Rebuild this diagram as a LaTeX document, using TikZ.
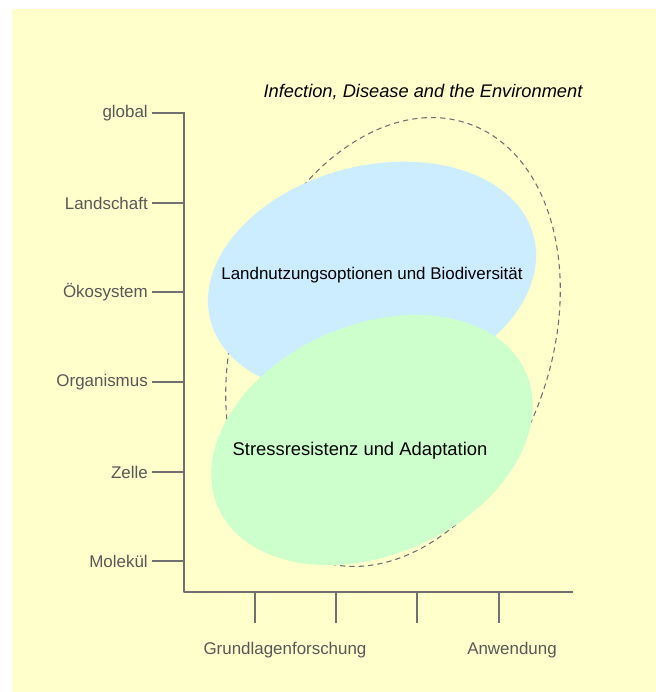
\documentclass[tikz,border=0pt]{standalone}
\usepackage{fontspec}
\setmainfont{Liberation Sans}
\definecolor{papier}{RGB}{255,255,204}
\definecolor{hellblau}{RGB}{204,236,255}
\definecolor{hellgruen}{RGB}{204,255,204}
\definecolor{achse}{RGB}{112,112,112}
\definecolor{schrift}{RGB}{88,88,88}
\tikzset{
  stufe/.style={anchor=east,text=schrift,inner sep=3pt},
  strich/.style={achse,line width=1pt},
  feld/.style={text=black}
}
\begin{document}
\begin{tikzpicture}[x=0.75pt,y=-0.75pt,line join=round,font=\fontsize{12.7}{15}\selectfont]
			\useasboundingbox (0,0) rectangle (656,692);
			\fill[papier] (12,9) rectangle (656,692);
			
			% Rahmen um beide Felder
			\draw[achse,line width=0.8pt,dash pattern=on 4pt off 3pt,rotate around={-19:(393,342)}]
			  (393,342) ellipse [x radius=158,y radius=231];
			\fill[hellblau,rotate around={14.6:(372,278)}] (372,278) ellipse [x radius=167,y radius=112];
			\fill[hellgruen,rotate around={23.6:(372,440)}] (372,440) ellipse [x radius=168,y radius=115];
			
			\node[feld] (land) at (372,275) {Landnutzungsoptionen und Biodiversität};
			\node[feld,font=\fontsize{13.8}{16}\selectfont] (stress) at (360,451) {Stressresistenz und Adaptation};
			\node[font=\fontsize{13.7}{16}\selectfont\itshape] (titel) at (423,92) {Infection, Disease and the Environment};
			
			% Achsen
			\coordinate (O) at (184,592);
			\coordinate (oben) at (184,112);
			\coordinate (rechts) at (573,592);
			\draw[strich] (oben)--(O)--(rechts);
			
			% Ebenen
			\node[stufe] (global) at (152,113) {global};
			\node[stufe] (landschaft) at (152,203) {Landschaft};
			\node[stufe] (oeko) at (152,292) {Ökosystem};
			\node[stufe] (organismus) at (152,382) {Organismus};
			\node[stufe] (zelle) at (152,472) {Zelle};
			\node[stufe] (molekuel) at (152,561) {Molekül};
			
			\draw[strich] (global.east)--(global.east-|O);
			\draw[strich] (landschaft.east)--(landschaft.east-|O);
			\draw[strich] (oeko.east)--(oeko.east-|O);
			\draw[strich] (organismus.east)--(organismus.east-|O);
			\draw[strich] (zelle.east)--(zelle.east-|O);
			\draw[strich] (molekuel.east)--(molekuel.east-|O);
			
			% Forschung
			\coordinate (a1) at (255,592); \coordinate (b1) at (255,623);
			\coordinate (a2) at (336,592); \coordinate (b2) at (336,623);
			\coordinate (a3) at (417,592); \coordinate (b3) at (417,623);
			\coordinate (a4) at (499,592); \coordinate (b4) at (499,623);
			\draw[strich] (a1)--(b1) (a2)--(b2) (a3)--(b3) (a4)--(b4);
			
			\node[text=schrift] (grund) at (285,650) {Grundlagenforschung};
			\node[text=schrift] (anw) at (512,650) {Anwendung};
			
\end{tikzpicture}
\end{document}
